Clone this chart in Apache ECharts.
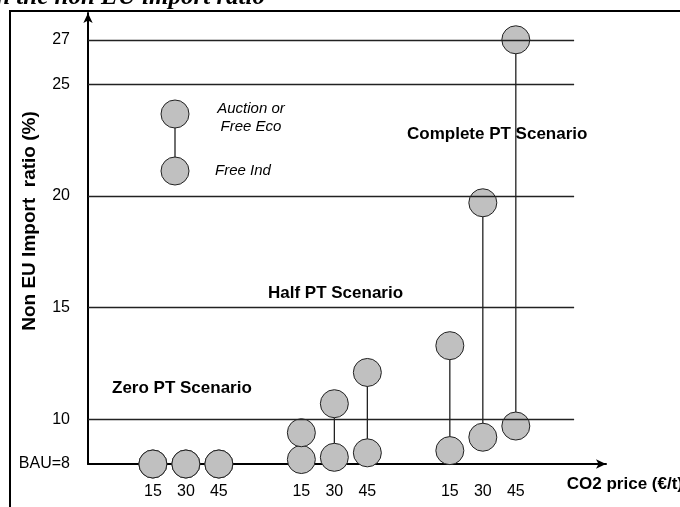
<!DOCTYPE html>
<html><head><meta charset="utf-8">
<script src="https://cdn.jsdelivr.net/npm/echarts@6/dist/echarts.min.js"></script>
<style>html,body{margin:0;padding:0;background:#fff}#c{width:680px;height:507px}</style>
</head><body><div id="c"></div>
<script>
// ---- data ----
const scenarios = ['Zero PT Scenario', 'Half PT Scenario', 'Complete PT Scenario'];
const prices = [15, 30, 45];
const auctionOrFreeEco = [[8, 8, 8], [9.4, 10.7, 12.1], [13.3, 19.7, 27]];
const freeInd = [[8, 8, 8], [8.2, 8.3, 8.5], [8.6, 9.2, 9.7]];
const yTickValues = [8, 10, 15, 20, 25, 27];
const yTickLabels = ['BAU=8', '10', '15', '20', '25', '27'];
const gridValues = [10, 15, 20, 25, 27];

// ---- layout constants ----
const groupGap = 67.5;     // spacing between scenario groups, in x-axis units
const xMin = -14.5, xMax = 221, gridEnd = 206.5;
const yMin = 8, yMax = 28.2;

const xPos = (g, i) => g * groupGap + prices[i];
const topPts = [], botPts = [], pairs = [], xTickVals = [], xTickMap = {};
scenarios.forEach((s, g) => {
  prices.forEach((p, i) => {
    const x = xPos(g, i);
    topPts.push([x, auctionOrFreeEco[g][i]]);
    botPts.push([x, freeInd[g][i]]);
    pairs.push([x, auctionOrFreeEco[g][i], freeInd[g][i]]);
    xTickVals.push(x);
    xTickMap[x.toFixed(2)] = String(p);
  });
});
const yLabelMap = {};
yTickValues.forEach((v, i) => yLabelMap[v] = yTickLabels[i]);

const font = 'Liberation Sans, Arial, sans-serif';
const circleStyle = { color: '#c0c0c0', borderColor: '#222', borderWidth: 1, opacity: 1 };

const chart = echarts.init(document.getElementById('c'), null, { renderer: 'canvas' });
chart.setOption({
  animation: false,
  backgroundColor: '#fff',
  grid: { left: 88, right: 74, top: 13, bottom: 43, containLabel: false, outerBoundsMode: 'none' },
  xAxis: {
    type: 'value', min: xMin, max: xMax,
    axisLine: { show: true, onZero: false, symbol: ['none', 'arrow'], symbolSize: [7, 10], lineStyle: { color: '#000', width: 2 } },
    axisTick: { show: false },
    splitLine: { show: false },
    axisLabel: {
      customValues: xTickVals,
      formatter: v => xTickMap[Number(v).toFixed(2)] || '',
      fontFamily: font, fontSize: 16, color: '#000', margin: 20
    }
  },
  yAxis: {
    type: 'value', min: yMin, max: yMax,
    axisLine: { show: true, onZero: false, symbol: ['none', 'arrow'], symbolSize: [7, 10], lineStyle: { color: '#000', width: 2 } },
    axisTick: { show: false },
    splitLine: { show: false },
    axisLabel: {
      customValues: yTickValues,
      formatter: v => yLabelMap[v] || '',
      fontFamily: font, fontSize: 16, color: '#000', margin: 18
    }
  },
  series: [
    {
      type: 'custom', z: 1, silent: true,
      renderItem: (params, api) => {
        const p1 = api.coord([api.value(0), api.value(1)]);
        const p2 = api.coord([api.value(0), api.value(2)]);
        return { type: 'line', shape: { x1: p1[0], y1: p1[1], x2: p2[0], y2: p2[1] }, style: { stroke: '#222', lineWidth: 1.3 } };
      },
      data: pairs
    },
    { type: 'scatter', z: 2, symbol: 'circle', symbolSize: 28, itemStyle: circleStyle, data: botPts },
    { type: 'scatter', z: 2, symbol: 'circle', symbolSize: 28, itemStyle: circleStyle, data: topPts },
    {
      type: 'line', z: 3, data: [], silent: true,
      markLine: {
        silent: true, symbol: ['none', 'none'], label: { show: false },
        lineStyle: { color: '#222', width: 1.3, type: 'solid' },
        data: gridValues.map(v => [{ coord: [xMin, v] }, { coord: [gridEnd, v] }])
      }
    }
  ],
  graphic: [
    { type: 'rect', shape: { x: 10, y: 11, width: 720, height: 530 }, style: { fill: null, stroke: '#000', lineWidth: 2 }, z: 0 },
    { type: 'text', x: 265, y: 10, style: { text: 'Impact on the non EU import ratio', align: 'right', verticalAlign: 'bottom', font: 'italic bold 25px "Liberation Serif", "Times New Roman", serif', fill: '#000' } },
    { type: 'text', x: 30, y: 221, rotation: Math.PI / 2, style: { text: 'Non EU Import  ratio (%)', align: 'center', verticalAlign: 'middle', font: 'bold 19px ' + font, fill: '#000' } },
    { type: 'text', x: 112, y: 388, style: { text: scenarios[0], align: 'left', verticalAlign: 'middle', font: 'bold 17px ' + font, fill: '#000' } },
    { type: 'text', x: 268, y: 293, style: { text: scenarios[1], align: 'left', verticalAlign: 'middle', font: 'bold 17px ' + font, fill: '#000' } },
    { type: 'text', x: 407, y: 134, style: { text: scenarios[2], align: 'left', verticalAlign: 'middle', font: 'bold 17px ' + font, fill: '#000' } },
    { type: 'text', x: 683, y: 484, style: { text: 'CO2 price (€/t)', align: 'right', verticalAlign: 'middle', font: 'bold 17px ' + font, fill: '#000' } },
    // legend
    { type: 'line', shape: { x1: 175, y1: 114, x2: 175, y2: 171 }, style: { stroke: '#222', lineWidth: 1.3 }, z: 1 },
    { type: 'circle', shape: { cx: 175, cy: 114, r: 14 }, style: { fill: '#c0c0c0', stroke: '#222', lineWidth: 1 }, z: 2 },
    { type: 'circle', shape: { cx: 175, cy: 171, r: 14 }, style: { fill: '#c0c0c0', stroke: '#222', lineWidth: 1 }, z: 2 },
    { type: 'text', x: 251, y: 109, style: { text: 'Auction or', align: 'center', verticalAlign: 'middle', font: 'italic 15px ' + font, fill: '#000' } },
    { type: 'text', x: 251, y: 127, style: { text: 'Free Eco', align: 'center', verticalAlign: 'middle', font: 'italic 15px ' + font, fill: '#000' } },
    { type: 'text', x: 215, y: 171, style: { text: 'Free Ind', align: 'left', verticalAlign: 'middle', font: 'italic 15px ' + font, fill: '#000' } }
  ]
});
</script></body></html>
